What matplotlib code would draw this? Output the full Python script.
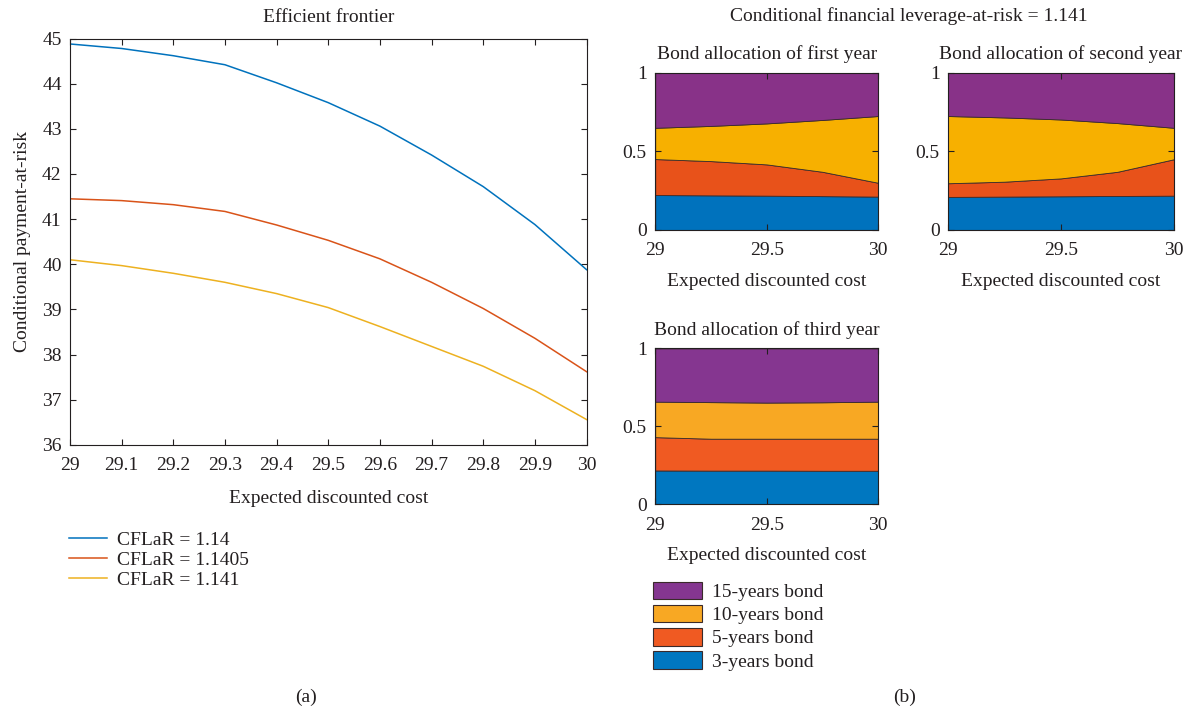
import numpy as np
import matplotlib
matplotlib.use("Agg")
import matplotlib.pyplot as plt
from matplotlib.patches import Patch

plt.rcParams["font.family"] = ["Liberation Serif", "DejaVu Serif"]
plt.rcParams["text.color"] = "#231f20"
plt.rcParams["axes.labelcolor"] = "#231f20"
plt.rcParams["xtick.color"] = "#231f20"
plt.rcParams["ytick.color"] = "#231f20"

# ---- (a) efficient frontier ----
cost = [29.0, 29.1, 29.2, 29.3, 29.4, 29.5, 29.6, 29.7, 29.8, 29.9, 30.0]
cpar_114 = [44.88, 44.78, 44.62, 44.42, 44.02, 43.58, 43.06, 42.42, 41.72, 40.88, 39.88]
cpar_11405 = [41.45, 41.41, 41.32, 41.17, 40.87, 40.53, 40.12, 39.60, 39.02, 38.36, 37.62]
cpar_1141 = [40.10, 39.97, 39.80, 39.60, 39.35, 39.04, 38.62, 38.18, 37.74, 37.20, 36.56]
frontier_labels = ["CFLaR = 1.14", "CFLaR = 1.1405", "CFLaR = 1.141"]

# ---- (b) bond allocations, shares per maturity ----
alloc_x = [29.0, 29.25, 29.5, 29.75, 30.0]
bond_labels = ["3-years bond", "5-years bond", "10-years bond", "15-years bond"]

y1_b3 = [0.222, 0.220, 0.218, 0.215, 0.212]
y1_b5 = [0.229, 0.218, 0.199, 0.155, 0.088]
y1_b10 = [0.199, 0.224, 0.261, 0.330, 0.425]
y1_b15 = [0.350, 0.338, 0.322, 0.300, 0.275]

y2_b3 = [0.210, 0.212, 0.214, 0.216, 0.218]
y2_b5 = [0.087, 0.095, 0.114, 0.154, 0.232]
y2_b10 = [0.428, 0.409, 0.375, 0.310, 0.200]
y2_b15 = [0.275, 0.284, 0.297, 0.320, 0.350]

y3_b3 = [0.216, 0.215, 0.215, 0.214, 0.214]
y3_b5 = [0.214, 0.205, 0.205, 0.206, 0.206]
y3_b10 = [0.228, 0.235, 0.232, 0.234, 0.238]
y3_b15 = [0.342, 0.345, 0.348, 0.346, 0.342]

line_colors = ["#0072BD", "#D95319", "#EDB120"]
area_colors = ["#0072BD", "#E8521A", "#F7B000", "#883288"]
area_colors3 = ["#0077C0", "#F05A22", "#F8A823", "#853690"]

FS = 14


def matlab_ticks(ax):
    ax.tick_params(direction="in", top=True, right=True, length=4,
                   labelsize=FS, width=0.8)
    ax.tick_params(axis="x", pad=9)
    ax.tick_params(axis="y", pad=6)
    for s in ax.spines.values():
        s.set_linewidth(0.8)
        s.set_color("#231f20")


fig = plt.figure(figsize=(12, 7.14), dpi=100)

ax = fig.add_axes([0.0583, 0.377, 0.4305, 0.569])
for ys, c, lab in zip([cpar_114, cpar_11405, cpar_1141], line_colors, frontier_labels):
    ax.plot(cost, ys, color=c, lw=1.1, label=lab)
ax.set_xlim(29, 30)
ax.set_ylim(36, 45)
ax.set_xticks(cost)
ax.set_xticklabels([f"{v:g}" for v in cost])
ax.set_yticks(range(36, 46))
matlab_ticks(ax)
ax.set_title("Efficient frontier", fontsize=FS, pad=12)
ax.set_xlabel("Expected discounted cost", fontsize=FS, labelpad=11)
ax.set_ylabel("Conditional payment-at-risk", fontsize=FS, labelpad=8)
h, l = ax.get_legend_handles_labels()
fig.legend(h, l, loc="upper left", bbox_to_anchor=(0.049, 0.269), frameon=False,
           fontsize=FS, handlelength=2.0, labelspacing=0.12, borderpad=0,
           handletextpad=0.5)

subs = [
    ([0.546, 0.678, 0.1858, 0.220], "Bond allocation of first year",
     [y1_b3, y1_b5, y1_b10, y1_b15], area_colors),
    ([0.790, 0.678, 0.1883, 0.220], "Bond allocation of second year",
     [y2_b3, y2_b5, y2_b10, y2_b15], area_colors),
    ([0.546, 0.294, 0.1858, 0.218], "Bond allocation of third year",
     [y3_b3, y3_b5, y3_b10, y3_b15], area_colors3),
]
for pos, title, shares, cols in subs:
    a = fig.add_axes(pos)
    a.stackplot(alloc_x, *shares, colors=cols, edgecolor="#3a2a2a", linewidth=0.6)
    a.set_xlim(29, 30)
    a.set_ylim(0, 1)
    a.set_xticks([29, 29.5, 30])
    a.set_xticklabels(["29", "29.5", "30"])
    a.set_yticks([0, 0.5, 1])
    a.set_yticklabels(["0", "0.5", "1"])
    matlab_ticks(a)
    a.set_title(title, fontsize=FS, pad=10)
    a.set_xlabel("Expected discounted cost", fontsize=FS, labelpad=10)
    a.set_axisbelow(False)

fig.text(0.757, 0.978, "Conditional financial leverage-at-risk = 1.141",
         ha="center", va="center", fontsize=FS)

handles = [Patch(facecolor=c, edgecolor="#3a2a2a", linewidth=0.8)
           for c in area_colors3[::-1]]
fig.legend(handles, bond_labels[::-1], loc="upper left",
           bbox_to_anchor=(0.536, 0.199), frameon=False, fontsize=FS,
           handlelength=2.5, handleheight=1.0, labelspacing=0.2, borderpad=0,
           handletextpad=0.55)

fig.text(0.255, 0.024, "(a)", ha="center", va="center", fontsize=FS)
fig.text(0.754, 0.024, "(b)", ha="center", va="center", fontsize=FS)

fig.savefig("out.png", dpi=100)
